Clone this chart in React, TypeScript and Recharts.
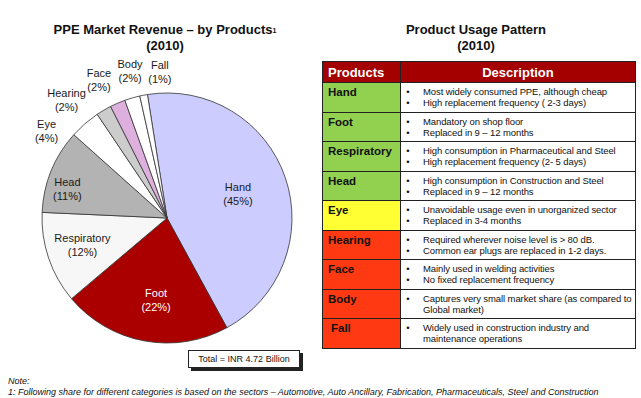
import { PieChart, Pie, Cell } from "recharts"

const products = ["Hand", "Foot", "Respiratory", "Head", "Eye", "Hearing", "Face", "Body", "Fall"]
const shares = [45, 22, 12, 11, 4, 2, 2, 2, 1]
const sliceColors = ["#ccccff", "#aa0000", "#f7f7f7", "#b3b3b3", "#ffffff", "#cccccc", "#ddb0dd", "#ffffff", "#ffffff"]

// label nudges: radius factor and angle shift (degrees, counter-clockwise) per slice
const labelRadius = [0.6, 0.66, 0.71, 0.83, 1.19, 1.24, 1.23, 1.21, 1.17]
const labelShift = [0, 3, -1, 6, 13, 10, 3, -2, -8]

const descriptions = [
  ["Most widely consumed PPE, although cheap", "High replacement frequency  ( 2-3 days)"],
  ["Mandatory on shop floor", "Replaced in 9 \u2013 12 months"],
  ["High consumption in Pharmaceutical and Steel", "High replacement frequency (2- 5 days)"],
  ["High consumption in Construction and Steel", "Replaced in 9 \u2013 12 months"],
  ["Unavoidable usage even in unorganized sector", "Replaced in 3-4 months"],
  ["Required wherever noise level is > 80 dB.", "Common ear plugs are replaced in 1-2 days."],
  ["Mainly used in welding activities", "No fixed replacement frequency"],
  ["Captures very small market share  (as compared to Global market)"],
  ["Widely used in construction industry and maintenance operations"],
]
const rowColors = ["#92d050", "#92d050", "#92d050", "#92d050", "#ffff33", "#ff3a12", "#ff3a12", "#ff3a12", "#ff3a12"]

const data = products.map((name, i) => ({ name, value: shares[i] }))

const RAD = Math.PI / 180
const font = "'Liberation Sans', Arial, sans-serif"

const renderLabel = (props: any) => {
  const { cx, cy, midAngle, outerRadius, index, name, value } = props
  const r = outerRadius * labelRadius[index]
  const a = (midAngle + labelShift[index]) * RAD
  const x = cx + r * Math.cos(-a)
  const y = cy + r * Math.sin(-a)
  const fill = index === 1 ? "#ffffff" : "#1a1a1a"
  return (
    <text x={x} y={y} textAnchor="middle" fontSize={11} fontFamily={font} fill={fill}>
      <tspan x={x} dy={-3}>{name}</tspan>
      <tspan x={x} dy={14}>({value}%)</tspan>
    </text>
  )
}

export default function App() {
  return (
    <div style={{ position: "absolute", left: 0, top: 0, width: 641, height: 398, background: "#ffffff", fontFamily: font, overflow: "hidden" }}>
      <div style={{ position: "absolute", left: 20, top: 22, width: 290, textAlign: "center", fontWeight: "bold", fontSize: 13, lineHeight: "16px", color: "#111" }}>
        PPE Market Revenue – by Products<span style={{ fontSize: 7, verticalAlign: "top", position: "relative", top: 1 }}>1</span>
        <br />(2010)
      </div>
      <div style={{ position: "absolute", left: 0, top: 0 }}>
        <PieChart width={330} height={360} margin={{ top: 0, right: 0, bottom: 0, left: 0 }}>
          <Pie
            data={data}
            dataKey="value"
            nameKey="name"
            cx={167}
            cy={218}
            outerRadius={125}
            startAngle={99}
            endAngle={-261}
            stroke="#333333"
            strokeWidth={0.8}
            label={renderLabel}
            labelLine={false}
            isAnimationActive={false}
          >
            {data.map((d, i) => (
              <Cell key={d.name} fill={sliceColors[i]} />
            ))}
          </Pie>
        </PieChart>
      </div>
      <div style={{ position: "absolute", left: 188, top: 350, width: 110, height: 16, border: "1px solid #222", boxShadow: "3px 3px 0 #222", background: "#fff", fontSize: 9, lineHeight: "16px", textAlign: "center", color: "#111" }}>
        Total = INR 4.72 Billion
      </div>

      <div style={{ position: "absolute", left: 330, top: 22, width: 292, textAlign: "center", fontWeight: "bold", fontSize: 13, lineHeight: "16px", color: "#111" }}>
        Product Usage Pattern
        <br />(2010)
      </div>
      <table style={{ position: "absolute", left: 322, top: 61, width: 313, borderCollapse: "collapse", fontFamily: font, tableLayout: "fixed" }}>
        <colgroup>
          <col style={{ width: 78 }} />
          <col style={{ width: 235 }} />
        </colgroup>
        <thead>
          <tr style={{ height: 21 }}>
            <th style={{ background: "#a50000", color: "#fff", fontSize: 13, textAlign: "left", padding: "0 0 0 5px", border: "1px solid #222" }}>Products</th>
            <th style={{ background: "#a50000", color: "#fff", fontSize: 13, textAlign: "center", padding: 0, border: "1px solid #222" }}>Description</th>
          </tr>
        </thead>
        <tbody>
          {products.map((p, i) => (
            <tr key={p} style={{ height: 29.5 }}>
              <td style={{ background: rowColors[i], fontWeight: "bold", fontSize: 11.5, verticalAlign: "top", padding: i === 8 ? "3px 0 0 8px" : "3px 0 0 5px", border: "1px solid #222", color: "#111" }}>{p}</td>
              <td style={{ verticalAlign: "top", padding: "3px 2px 0 0", border: "1px solid #222", fontSize: 9.5, lineHeight: "11px", color: "#111" }}>
                {descriptions[i].map((t) => (
                  <div key={t} style={{ display: "flex" }}>
                    <span style={{ width: 14, textAlign: "center", flexShrink: 0, marginRight: 8 }}>•</span>
                    <span style={{ letterSpacing: -0.1 }}>{t}</span>
                  </div>
                ))}
              </td>
            </tr>
          ))}
        </tbody>
      </table>

      <div style={{ position: "absolute", left: 8, top: 376, fontStyle: "italic", fontSize: 9, lineHeight: "11px", color: "#111" }}>
        Note:
        <br />1: Following share for  different categories is based on the sectors – Automotive, Auto Ancillary, Fabrication, Pharmaceuticals, Steel and Construction
      </div>
    </div>
  )
}
